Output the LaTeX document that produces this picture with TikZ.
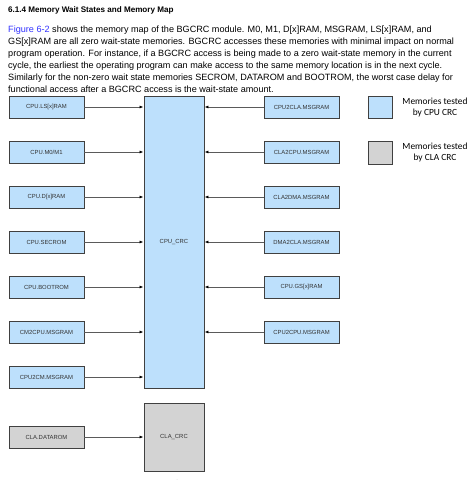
\documentclass[tikz,border=0pt]{standalone}
\usepackage{fontspec}
\setmainfont{Liberation Sans}
\newfontfamily\legendfont{Carlito}
\usetikzlibrary{arrows.meta}
\definecolor{memblue}{RGB}{189,224,252}
\definecolor{memgray}{RGB}{211,211,211}
\definecolor{edgegray}{RGB}{64,64,64}
\definecolor{linkblue}{RGB}{51,51,255}
\definecolor{wiregray}{RGB}{90,90,90}
\begin{document}
\begin{tikzpicture}[x=1pt,y=-1pt,
  membox/.style={draw=edgegray,line width=0.9pt,fill=memblue,minimum width=75pt,minimum height=22pt,inner sep=0pt,font=\fontsize{5.9}{7}\selectfont,text=black!80},
  graybox/.style={membox,fill=memgray},
  crcbox/.style={draw=edgegray,line width=0.9pt,fill=memblue,minimum width=60pt,inner sep=0pt,font=\fontsize{5.9}{7}\selectfont,text=black!80},
  wire/.style={draw=wiregray,line width=0.8pt,-{Latex[length=4pt,width=3pt,color=black]}},
  para/.style={anchor=west,inner sep=0pt,font=\fontsize{9.1}{10}\selectfont},
  legtxt/.style={align=center,inner sep=0pt,font=\legendfont\fontsize{9.4}{11.2}\selectfont}]
\useasboundingbox (0,0) rectangle (475,480);
\fill[white] (0,0) rectangle (475,480);
% heading and paragraph
\node[para,font=\bfseries\fontsize{8.1}{10}\selectfont] (title) at (8,10) {6.1.4 Memory Wait States and Memory Map};
\node[para] (p1) at (8,30) {\textcolor{linkblue}{Figure 6-2} shows the memory map of the BGCRC module. M0, M1, D[x]RAM, MSGRAM, LS[x]RAM, and};
\node[para] (p2) at (8,42) {GS[x]RAM are all zero wait-state memories. BGCRC accesses these memories with minimal impact on normal};
\node[para] (p3) at (8,54) {program operation. For instance, if a BGCRC access is being made to a zero wait-state memory in the current};
\node[para] (p4) at (8,66) {cycle, the earliest the operating program can make access to the same memory location is in the next cycle.};
\node[para] (p5) at (8,78) {Similarly for the non-zero wait state memories SECROM, DATAROM and BOOTROM, the worst case delay for};
\node[para] (p6) at (8,89) {functional access after a BGCRC access is the wait-state amount.};
% central blocks
\node[crcbox,minimum height=292pt] (cpucrc) at (174,242) {CPU\_CRC};
\node[crcbox,fill=memgray,minimum height=68pt] (clacrc) at (174,437) {CLA\_CRC};
% left memories
\node[membox] (l1) at (46.5,107) {CPU.LS[x]RAM};
\node[membox] (l2) at (46.5,152) {CPU.M0/M1};
\node[membox] (l3) at (46.5,197) {CPU.D[x]RAM};
\node[membox] (l4) at (46.5,242) {CPU.SECROM};
\node[membox] (l5) at (46.5,287) {CPU.BOOTROM};
\node[membox] (l6) at (46.5,332) {CM2CPU.MSGRAM};
\node[membox] (l7) at (46.5,377) {CPU2CM.MSGRAM};
\node[graybox] (l8) at (46.5,437) {CLA.DATAROM};
% right memories
\node[membox] (r1) at (301.5,107) {CPU2CLA.MSGRAM};
\node[membox] (r2) at (301.5,152) {CLA2CPU.MSGRAM};
\node[membox] (r3) at (301.5,197) {CLA2DMA.MSGRAM};
\node[membox] (r4) at (301.5,242) {DMA2CLA.MSGRAM};
\node[membox] (r5) at (301.5,287) {CPU.GS[x]RAM};
\node[membox] (r6) at (301.5,332) {CPU2CPU.MSGRAM};
% connectors
\foreach \n in {l1,l2,l3,l4,l5,l6,l7}{
  \draw[wire] (\n.east) -- (\n.east -| cpucrc.west);
}
\draw[wire] (l8.east) -- (l8.east -| clacrc.west);
\foreach \n in {r1,r2,r3,r4,r5,r6}{
  \draw[wire] (\n.west) -- (\n.west -| cpucrc.east);
}
% legend
\node[draw=edgegray,line width=0.9pt,fill=memblue,minimum width=24pt,minimum height=22pt,inner sep=0pt] (lgb) at (380,107) {};
\node[draw=edgegray,line width=0.9pt,fill=memgray,minimum width=24pt,minimum height=23pt,inner sep=0pt] (lgg) at (380,152.5) {};
\node[legtxt] (lgbt) at (435,107.5) {Memories tested\\by CPU CRC};
\node[legtxt] (lggt) at (435,152.5) {Memories tested\\by CLA CRC};
% caption (cut off at the bottom, as in the source)
\node[inner sep=0pt,font=\bfseries\fontsize{8.4}{10}\selectfont,text=black!70] (cap) at (236,484) {Figure 6-2. BGCRC Memory Map};
\end{tikzpicture}
\end{document}
